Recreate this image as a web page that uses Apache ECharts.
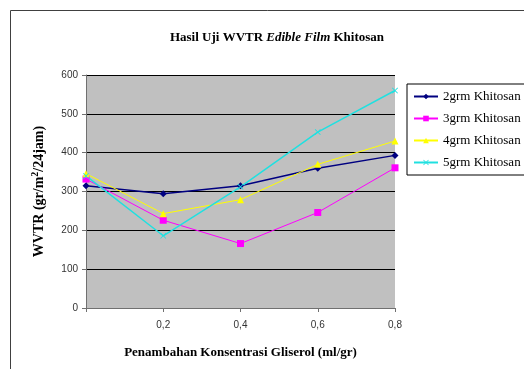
<!DOCTYPE html>
<html>
<head>
<meta charset="utf-8">
<script src="https://cdn.jsdelivr.net/npm/echarts@6/dist/echarts.min.js"></script>
<style>
  html, body { margin: 0; padding: 0; background: #fff; }
  #chart { width: 524px; height: 369px; }
</style>
</head>
<body>
<div id="chart"></div>
<script>
// Glycerol concentration (ml/gr) along the x axis
const categories = ['', '0,2', '0,4', '0,6', '0,8'];

// WVTR (gr/m2/24jam) per chitosan amount
const khitosan2 = [315, 294, 315, 360, 393];
const khitosan3 = [332, 226, 166, 246, 361];
const khitosan4 = [346, 243, 279, 370, 430];
const khitosan5 = [340, 186, 312, 453, 560];

const seriesNames = ['2grm Khitosan', '3grm Khitosan', '4grm Khitosan', '5grm Khitosan'];
const yTicks = [0, 100, 200, 300, 400, 500, 600];

const chart = echarts.init(document.getElementById('chart'), null, { renderer: 'canvas' });

const serif = '"Liberation Serif", "Times New Roman", serif';
const sans = '"Liberation Sans", Arial, sans-serif';
const crossPath = 'path://M0,1L1,0L5,4L9,0L10,1L6,5L10,9L9,10L5,6L1,10L0,9L4,5Z';

function line(name, data, color, symbol, size, width) {
  return {
    name: name,
    type: 'line',
    data: data,
    symbol: symbol,
    symbolSize: size,
    showSymbol: true,
    lineStyle: { color: color, width: width },
    itemStyle: { color: color, borderWidth: 0 },
    emphasis: { disabled: true },
    z: 3
  };
}

chart.setOption({
  animation: false,
  backgroundColor: '#ffffff',
  title: {
    text: 'Hasil Uji WVTR {i|Edible Film} Khitosan',
    left: 272,
    top: 26,
    textAlign: 'center',
    textStyle: {
      fontFamily: serif, fontSize: 13, fontWeight: 'bold', color: '#000',
      rich: { i: { fontFamily: serif, fontSize: 13, fontWeight: 'bold', fontStyle: 'italic', color: '#000' } }
    }
  },
  graphic: [
    {
      type: 'rect',
      shape: { x: 10.5, y: 10.5, width: 600, height: 400 },
      style: { fill: 'none', stroke: '#404040', lineWidth: 1 },
      z: -1
    }
  ],
  legend: {
    orient: 'vertical',
    left: 407,
    top: 84,
    width: 140,
    padding: [6, 40, 6, 6],
    itemGap: 9,
    itemWidth: 24,
    itemHeight: 7,
    backgroundColor: '#ffffff',
    borderColor: '#000000',
    borderWidth: 1,
    borderRadius: 0,
    textStyle: { fontFamily: serif, fontSize: 13, color: '#000', padding: [0, 0, 0, 0] },
    data: seriesNames
  },
  grid: {
    left: 86, top: 75, right: 129, bottom: 61,
    show: true,
    backgroundColor: '#c0c0c0',
    borderWidth: 0
  },
  xAxis: {
    type: 'category',
    data: categories,
    boundaryGap: false,
    name: 'Penambahan Konsentrasi Gliserol (ml/gr)',
    nameLocation: 'middle',
    nameGap: 38,
    nameTextStyle: { fontFamily: serif, fontSize: 13, fontWeight: 'bold', color: '#000' },
    axisLine: { lineStyle: { color: '#707070', width: 1 } },
    axisTick: { show: true, alignWithLabel: true, length: 4, lineStyle: { color: '#707070' } },
    axisLabel: { fontFamily: sans, fontSize: 10, color: '#333', margin: 12 },
    splitLine: { show: false }
  },
  yAxis: {
    type: 'value',
    min: yTicks[0],
    max: yTicks[yTicks.length - 1],
    interval: 100,
    name: 'WVTR (gr/m{s|2}/24jam)',
    nameLocation: 'middle',
    nameGap: 38,
    nameRotate: 90,
    nameTextStyle: {
      fontFamily: serif, fontSize: 14, fontWeight: 'bold', color: '#000',
      rich: { s: { fontFamily: serif, fontSize: 10, fontWeight: 'bold', color: '#000', verticalAlign: 'top', padding: [0, 0, 8, 0] } }
    },
    axisLine: { show: true, lineStyle: { color: '#707070', width: 1 } },
    axisTick: { show: true, length: 4, lineStyle: { color: '#707070' } },
    axisLabel: { fontFamily: sans, fontSize: 10, color: '#333', margin: 8 },
    splitLine: {
      show: true,
      lineStyle: { color: '#000000', width: 1 }
    }
  },
  series: [
    line(seriesNames[0], khitosan2, '#000080', 'diamond', 7, 1.5),
    line(seriesNames[1], khitosan3, '#ff00ff', 'rect', 7, 1),
    line(seriesNames[2], khitosan4, '#ffff00', 'triangle', 7, 1),
    line(seriesNames[3], khitosan5, '#20e0e0', crossPath, 6, 1.5)
  ]
});
</script>
</body>
</html>
